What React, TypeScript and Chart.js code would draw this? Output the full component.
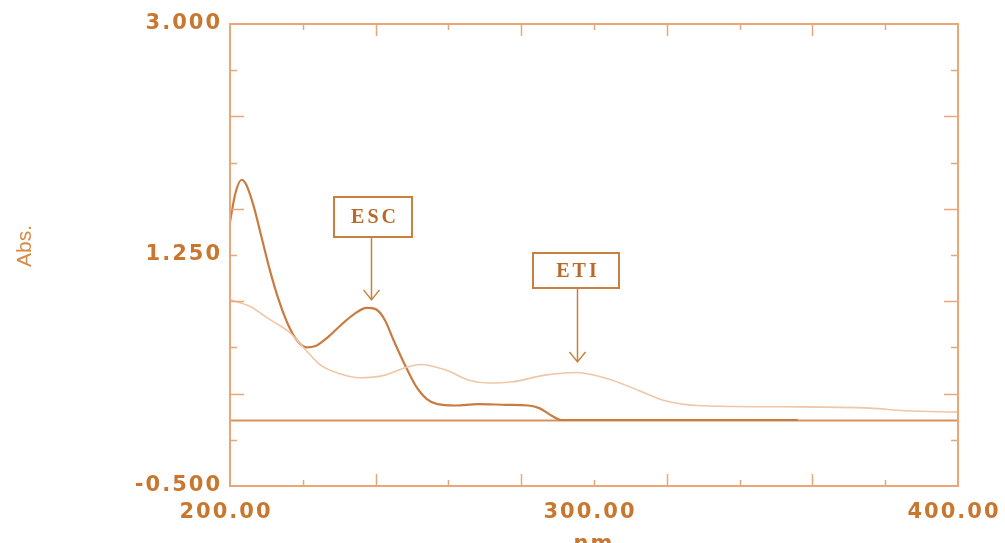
import { useEffect, useRef } from 'react';
import { Chart, registerables } from 'chart.js';

Chart.register(...registerables);

// ---- Data ----
const escWavelengths = [200, 201.5, 203.2, 204.5, 206.5, 208.7, 211, 213.5, 216, 218.5, 221, 223.5, 227, 230.5, 234, 237.5, 240, 242.5, 245, 248, 251, 254, 257, 262, 268, 276, 282, 285, 288.5, 291, 320, 356];
const escAbs = [1.5, 1.72, 1.82, 1.78, 1.62, 1.38, 1.13, 0.9, 0.72, 0.6, 0.55, 0.56, 0.63, 0.72, 0.8, 0.85, 0.84, 0.76, 0.6, 0.42, 0.26, 0.16, 0.12, 0.11, 0.12, 0.115, 0.11, 0.09, 0.03, 0.0, 0.0, 0.0];

const etiWavelengths = [200, 205.5, 211, 216.5, 220.5, 224.7, 230.2, 235.7, 242.6, 247.5, 252.2, 259.1, 265.9, 271.4, 277.7, 286.5, 295.3, 305.2, 312.6, 319, 328.3, 351.1, 375.8, 385.4, 400];
const etiAbs = [0.91, 0.86, 0.76, 0.66, 0.54, 0.42, 0.35, 0.32, 0.34, 0.39, 0.42, 0.38, 0.3, 0.28, 0.29, 0.34, 0.36, 0.3, 0.22, 0.15, 0.11, 0.1, 0.09, 0.07, 0.06];

const xMin = 200;
const xMax = 400;
const yMin = -0.5;
const yMax = 3.0;
const xTickValues = [200, 300, 400];
const yTickValues = [-0.5, 1.25, 3.0];
const xMinorStep = 20;
const yMinorStep = 0.35;
const baselineValue = 0;
const yAxisTitle = 'Abs.';
const xAxisTitle = 'nm';

const annotationLabels = ['ESC', 'ETI'];
const annotationArrowX = [238.7, 295.3];
const annotationArrowTip = [0.91, 0.44];
const annotationBoxLeft = [228.6, 283.2];
const annotationBoxRight = [250.0, 306.9];
const annotationBoxTop = [1.69, 1.265];
const annotationBoxBottom = [1.39, 1.0];

// ---- Styles ----
const AXIS_COLOR = '#eaa676';
const LABEL_COLOR = '#c9772f';
const ESC_COLOR = '#c97c42';
const ETI_COLOR = '#efc6a6';
const BASELINE_COLOR = '#d6925e';
const BOX_COLOR = '#c9803f';
const BOX_TEXT_COLOR = '#b8692b';
const LABEL_SPACING = '2px';

const spacingPlugin = {
  id: 'spacingPlugin',
  beforeLayout(chart: any) {
    (chart.ctx as any).letterSpacing = LABEL_SPACING;
  },
  beforeDraw(chart: any) {
    (chart.ctx as any).letterSpacing = LABEL_SPACING;
  },
};

const framePlugin = {
  id: 'framePlugin',
  beforeDatasetsDraw(chart: any) {
    const { ctx, chartArea: a, scales } = chart;
    const y0 = Math.round(scales.y.getPixelForValue(baselineValue)) + 0.5;
    ctx.save();
    ctx.strokeStyle = BASELINE_COLOR;
    ctx.lineWidth = 2;
    ctx.beginPath();
    ctx.moveTo(a.left, y0);
    ctx.lineTo(a.right, y0);
    ctx.stroke();
    ctx.restore();
  },
  afterDraw(chart: any) {
    const { ctx, chartArea: a, scales } = chart;
    const xs = scales.x;
    const ys = scales.y;
    ctx.save();
    ctx.strokeStyle = AXIS_COLOR;
    ctx.lineWidth = 2;
    ctx.strokeRect(a.left, a.top, a.right - a.left, a.bottom - a.top);
    ctx.lineWidth = 1.5;
    ctx.beginPath();
    const nx = Math.round((xMax - xMin) / xMinorStep);
    for (let i = 1; i < nx; i++) {
      const px = Math.round(xs.getPixelForValue(xMin + i * xMinorStep)) + 0.5;
      const len = i % 2 === 0 ? 12 : 6;
      ctx.moveTo(px, a.bottom);
      ctx.lineTo(px, a.bottom - len);
      ctx.moveTo(px, a.top);
      ctx.lineTo(px, a.top + len);
    }
    const ny = Math.round((yMax - yMin) / yMinorStep);
    for (let i = 1; i < ny; i++) {
      const py = Math.round(ys.getPixelForValue(yMin + i * yMinorStep)) + 0.5;
      const len = i % 2 === 0 ? 14 : 7;
      ctx.moveTo(a.left, py);
      ctx.lineTo(a.left + len, py);
      ctx.moveTo(a.right, py);
      ctx.lineTo(a.right - len, py);
    }
    ctx.stroke();

    // y-axis title
    ctx.save();
    (ctx as any).letterSpacing = '0px';
    ctx.translate(25, (a.top + a.bottom) / 2 - 9);
    ctx.rotate(-Math.PI / 2);
    ctx.fillStyle = '#d58a45';
    ctx.font = '21px "Liberation Sans", sans-serif';
    ctx.textAlign = 'center';
    ctx.textBaseline = 'middle';
    ctx.fillText(yAxisTitle, 0, 0);
    ctx.restore();

    // annotations
    for (let k = 0; k < annotationLabels.length; k++) {
      const l = Math.round(xs.getPixelForValue(annotationBoxLeft[k]));
      const r = Math.round(xs.getPixelForValue(annotationBoxRight[k]));
      const t = Math.round(ys.getPixelForValue(annotationBoxTop[k]));
      const b = Math.round(ys.getPixelForValue(annotationBoxBottom[k]));
      const ax = Math.round(xs.getPixelForValue(annotationArrowX[k])) + 0.5;
      const tip = ys.getPixelForValue(annotationArrowTip[k]);
      ctx.strokeStyle = BOX_COLOR;
      ctx.lineWidth = 2;
      ctx.strokeRect(l, t, r - l, b - t);
      ctx.lineWidth = 1.5;
      ctx.beginPath();
      ctx.moveTo(ax, b);
      ctx.lineTo(ax, tip);
      ctx.moveTo(ax - 8, tip - 10);
      ctx.lineTo(ax, tip);
      ctx.lineTo(ax + 8, tip - 10);
      ctx.stroke();
      ctx.fillStyle = BOX_TEXT_COLOR;
      ctx.font = 'bold 20px "Liberation Serif", serif';
      (ctx as any).letterSpacing = '3px';
      ctx.textAlign = 'center';
      ctx.textBaseline = 'middle';
      ctx.fillText(annotationLabels[k], (l + r) / 2 + 2, (t + b) / 2 + 1);
    }
    ctx.restore();
  },
};

export default function App() {
  const canvasRef = useRef<HTMLCanvasElement | null>(null);

  useEffect(() => {
    const canvas = canvasRef.current;
    if (!canvas) return;
    const tickFont = { family: '"DejaVu Sans", sans-serif', weight: 'bold' as const, size: 21 };
    const chart = new Chart(canvas, {
      type: 'line',
      data: {
        datasets: [
          {
            label: 'ETI',
            data: etiWavelengths.map((w, i) => ({ x: w, y: etiAbs[i] })),
            borderColor: ETI_COLOR,
            borderWidth: 1.6,
            pointRadius: 0,
            tension: 0.4,
            cubicInterpolationMode: 'monotone',
            fill: false,
          },
          {
            label: 'ESC',
            data: escWavelengths.map((w, i) => ({ x: w, y: escAbs[i] })),
            borderColor: ESC_COLOR,
            borderWidth: 2.2,
            pointRadius: 0,
            tension: 0.4,
            cubicInterpolationMode: 'monotone',
            fill: false,
          },
        ],
      },
      options: {
        animation: false,
        responsive: false,
        devicePixelRatio: 1,
        layout: { padding: { top: 24, right: 47, left: 49, bottom: 0 } },
        plugins: { legend: { display: false }, tooltip: { enabled: false } },
        scales: {
          x: {
            type: 'linear',
            min: xMin,
            max: xMax,
            grid: { display: false, drawTicks: false },
            border: { display: false },
            afterBuildTicks: (s: any) => {
              s.ticks = xTickValues.map((v) => ({ value: v }));
            },
            afterFit: (s: any) => {
              s.height = 79;
              s.paddingLeft = 0;
              s.paddingRight = 0;
            },
            ticks: {
              color: LABEL_COLOR,
              font: tickFont,
              padding: 14,
              labelOffset: -4,
              maxRotation: 0,
              autoSkip: false,
              callback: (v: any) => Number(v).toFixed(2),
            },
            title: {
              display: true,
              text: xAxisTitle,
              color: LABEL_COLOR,
              font: tickFont,
              padding: { top: 0, bottom: 8 },
            },
          },
          y: {
            type: 'linear',
            min: yMin,
            max: yMax,
            grid: { display: false, drawTicks: false },
            border: { display: false },
            afterBuildTicks: (s: any) => {
              s.ticks = yTickValues.map((v) => ({ value: v }));
            },
            afterFit: (s: any) => {
              s.width = 181;
              s.paddingTop = 0;
              s.paddingBottom = 0;
            },
            ticks: {
              color: LABEL_COLOR,
              font: tickFont,
              padding: 8,
              autoSkip: false,
              callback: (v: any) => Number(v).toFixed(3),
            },
          },
        },
      },
      plugins: [spacingPlugin, framePlugin],
    });
    return () => chart.destroy();
  }, []);

  return (
    <div style={{ position: 'absolute', left: 0, top: 0, width: 1005, height: 543, overflow: 'hidden', background: '#ffffff' }}>
      <canvas ref={canvasRef} width={1005} height={565} style={{ display: 'block' }} />
    </div>
  );
}
